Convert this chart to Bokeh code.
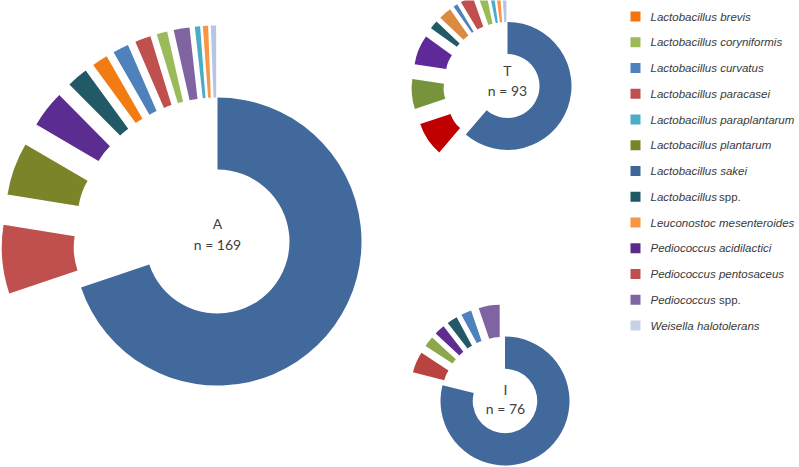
import math
from bokeh.plotting import figure
from bokeh.models import Range1d, ColumnDataSource
from bokeh.core.properties import value
from bokeh.embed import file_html
from bokeh.resources import INLINE

# ---------------- data ----------------
# slice order (clockwise from 12 o'clock)
slice_species = ["Lactobacillus sakei", "Pediococcus pentosaceus", "Lactobacillus plantarum",
                 "Pediococcus acidilactici", "Lactobacillus spp.", "Lactobacillus brevis",
                 "Lactobacillus curvatus", "Lactobacillus paracasei", "Lactobacillus coryniformis",
                 "Pediococcus spp.", "Lactobacillus paraplantarum", "Leuconostoc mesenteroides",
                 "Weisella halotolerans"]

counts_A = [118, 13, 10, 7, 4, 3, 3, 3, 2, 3, 1, 1, 1]
counts_T = [57, 8, 7, 7, 2, 3, 1, 3, 2, 0, 1, 1, 1]
counts_I = [60, 4, 2, 2, 2, 0, 2, 0, 0, 4, 0, 0, 0]

colors_A = ["#41699C", "#C0504D", "#7B8428", "#5C2D91", "#215967", "#F27B12",
            "#4F81BD", "#C0504D", "#9BBB59", "#8064A2", "#4BACC6", "#F79646", "#B8C4E4"]
colors_T = ["#41699C", "#C00000", "#77933C", "#60299A", "#215967", "#DB8B3F",
            "#4F81BD", "#C0504D", "#9BBB59", "#8064A2", "#4BACC6", "#F79646", "#B8C4E4"]
colors_I = ["#41699C", "#B8433F", "#8BA84A", "#5F2C91", "#215967", "#F27B12",
            "#4F81BD", "#C0504D", "#9BBB59", "#8064A2", "#4BACC6", "#F79646", "#B8C4E4"]

chart_titles = ["A", "T", "I"]
chart_n = ["n = 169", "n = 93", "n = 76"]

legend_genus = ["Lactobacillus brevis", "Lactobacillus coryniformis", "Lactobacillus curvatus",
                "Lactobacillus paracasei", "Lactobacillus paraplantarum", "Lactobacillus plantarum",
                "Lactobacillus sakei", "Lactobacillus", "Leuconostoc mesenteroides",
                "Pediococcus acidilactici", "Pediococcus pentosaceus", "Pediococcus",
                "Weisella halotolerans"]
legend_suffix = ["", "", "", "", "", "", "", "spp.", "", "", "", "spp.", ""]
legend_colors = ["#F4740E", "#9BBB59", "#4F81BD", "#C0504D", "#4BACC6", "#7A8426",
                 "#3E6699", "#1F5A64", "#F79646", "#5B2A8C", "#C0504D", "#8064A2", "#C6D0E6"]

# ---------------- layout ----------------
W, H = 799, 467
p = figure(width=W, height=H, output_backend="svg", toolbar_location=None,
           x_range=Range1d(0, W), y_range=Range1d(0, H), min_border=0)
p.axis.visible = False
p.grid.visible = False
p.outline_line_color = None
p.background_fill_color = "white"
p.border_fill_color = "white"


def img(X, Y):
    return X, H - Y


def donut(cx, cy, R, counts, colors):
    n = sum(counts)
    r = R / 2.0
    d = R / 2.0
    xs, ys, st, en, cols = [], [], [], [], []
    cum = 0
    for i, c in enumerate(counts):
        if c <= 0:
            continue
        t1 = 360.0 * cum / n
        t2 = 360.0 * (cum + c) / n
        cum += c
        mid = math.radians(90 - (t1 + t2) / 2)
        off = 0 if i == 0 else d
        xs.append(cx + off * math.cos(mid))
        ys.append(cy + off * math.sin(mid))
        st.append(90 - t2)
        en.append(90 - t1)
        cols.append(colors[i])
    src = ColumnDataSource(dict(x=xs, y=ys, s=st, e=en, c=cols))
    p.annular_wedge(x="x", y="y", inner_radius=r, outer_radius=R, start_angle="s",
                    end_angle="e", start_angle_units="deg", end_angle_units="deg",
                    fill_color="c", line_color=None, source=src)


centers = [img(217, 241), img(507, 85.5), img(504.5, 400.5)]
radii = [144, 64, 64.5]
for (cx, cy), R, cnt, col in zip(centers, radii, [counts_A, counts_T, counts_I],
                                  [colors_A, colors_T, colors_I]):
    donut(cx, cy, R, cnt, col)

title_pos = [img(217, 223), img(507, 70), img(505, 389)]
n_pos = [img(217, 244), img(507, 90), img(505, 408)]
for t, (tx, ty), nn, (nx, ny) in zip(chart_titles, title_pos, chart_n, n_pos):
    p.text(x=[tx, nx], y=[ty, ny], text=[t, nn], text_font=value("Lato"),
           text_font_size="14px", text_color="#404040", text_align="center",
           text_baseline="middle")

# legend
leg_x = 630
leg_y0 = 16
leg_dy = 25.75
mx, my, lx, ly, lt, sx, sy, st_ = [], [], [], [], [], [], [], []
for i, g in enumerate(legend_genus):
    X, Y = img(leg_x + 5, leg_y0 + i * leg_dy)
    mx.append(X)
    my.append(Y)
    tx, ty = img(650, leg_y0 + i * leg_dy)
    lx.append(tx)
    ly.append(ty)
    lt.append(g)
    if legend_suffix[i]:
        sx.append(tx + 68.5)
        sy.append(ty)
        st_.append(legend_suffix[i])

p.rect(x=mx, y=my, width=10, height=10, fill_color=legend_colors, line_color=None)
p.text(x=lx, y=ly, text=lt, text_font=value("Liberation Sans"), text_font_size="11.5px",
       text_font_style="italic", text_color="#3A3A3A", text_baseline="middle",
       text_align="left")
p.text(x=sx, y=sy, text=st_, text_font=value("Liberation Sans"), text_font_size="11.5px",
       text_color="#3A3A3A", text_baseline="middle", text_align="left")

open("out.html", "w").write(file_html(p, INLINE))
